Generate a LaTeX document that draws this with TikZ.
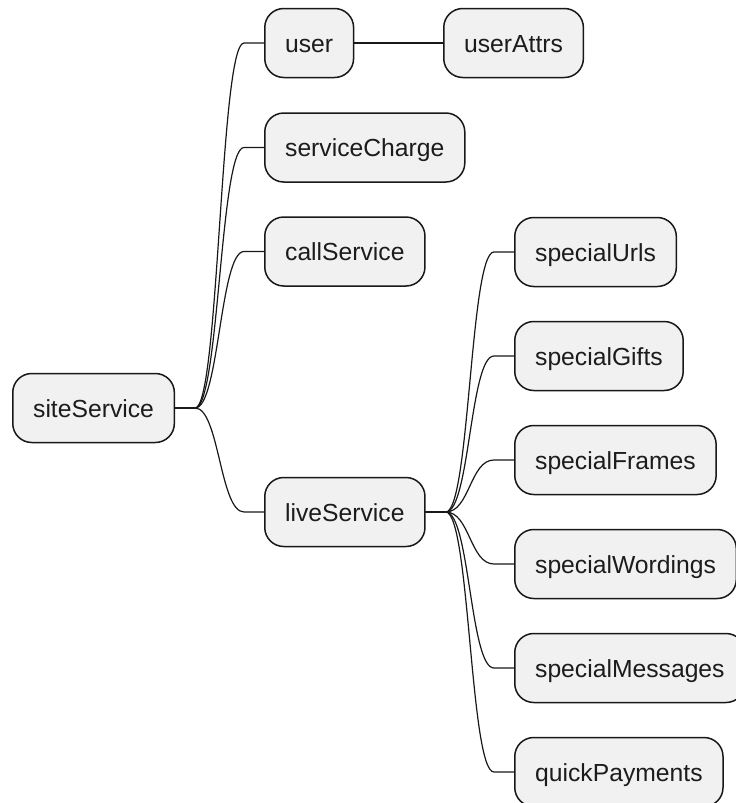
\documentclass[tikz,border=0pt]{standalone}
\usepackage{fontspec}
\setmainfont{Liberation Sans}
\definecolor{boxfill}{HTML}{F1F1F1}
\definecolor{linecol}{HTML}{181818}
\definecolor{textcol}{HTML}{1C1C1C}
\begin{document}
\begin{tikzpicture}[x=1pt, y=-1pt,
  topic/.style={draw=linecol, fill=boxfill, line width=1.5pt,
    rounded corners=19pt, anchor=west, minimum height=69pt,
    inner xsep=20.4pt, inner ysep=0pt, text height=18.5pt, text depth=0pt,
    font=\fontsize{24.7}{30}\selectfont, text=textcol},
  branch/.style={draw=linecol, line width=1.2pt,
    to path={(\tikztostart) -- ++(20,0)
      .. controls +(24,0) and +(-24,0) .. ([xshift=-20pt]\tikztotarget)
      -- (\tikztotarget)}},
  link/.style={draw=linecol, line width=1.2pt},
]
\useasboundingbox (0,0) rectangle (736,803);

% root
\node[topic] (site) at (12,408) {siteService};

% first level
\node[topic] (user)    at (264,43)    {user};
\node[topic] (charge)  at (264,147.5) {serviceCharge};
\node[topic] (call)    at (264,251.5) {callService};
\node[topic] (live)    at (264,512)   {liveService};

% second level
\node[topic] (attrs)    at (443,43)  {userAttrs};
\node[topic] (urls)     at (514,252) {specialUrls};
\node[topic] (gifts)    at (514,356) {specialGifts};
\node[topic] (frames)   at (514,460) {specialFrames};
\node[topic] (wordings) at (514,564) {specialWordings};
\node[topic] (messages) at (514,668) {specialMessages};
\node[topic] (payments) at (514,772) {quickPayments};

% connectors
\draw[branch] (site.east) to (user.west);
\draw[branch] (site.east) to (charge.west);
\draw[branch] (site.east) to (call.west);
\draw[branch] (site.east) to (live.west);

\draw[link] (user.east) -- (attrs.west);

\draw[branch] (live.east) to (urls.west);
\draw[branch] (live.east) to (gifts.west);
\draw[branch] (live.east) to (frames.west);
\draw[branch] (live.east) to (wordings.west);
\draw[branch] (live.east) to (messages.west);
\draw[branch] (live.east) to (payments.west);
\end{tikzpicture}
\end{document}
